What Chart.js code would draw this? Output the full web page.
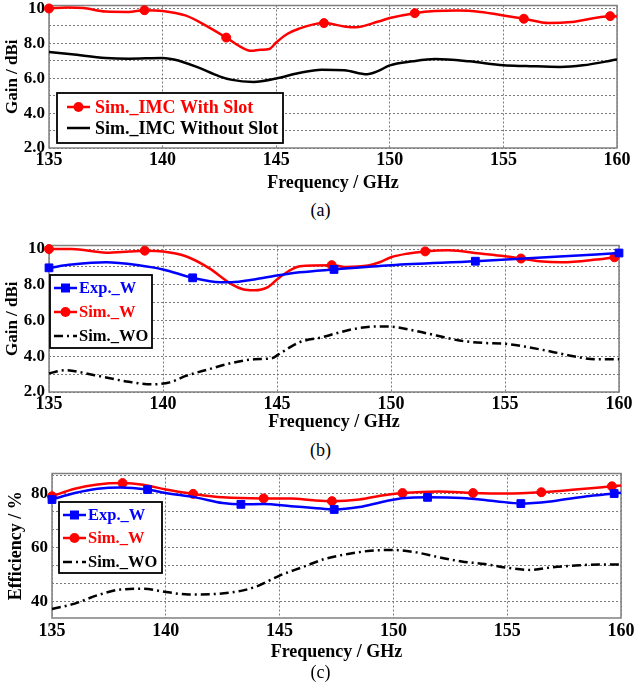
<!DOCTYPE html>
<html>
<head>
<meta charset="utf-8">
<script src="https://cdn.jsdelivr.net/npm/chart.js@4.4.1/dist/chart.umd.min.js"></script>
<style>
body { margin: 0; background: #fff; }
#page { position: relative; width: 641px; height: 686px; overflow: hidden; }
canvas { position: absolute; left: 0; }
.cap { position: absolute; left: 0; width: 641px; text-align: center; font: 18px 'Liberation Serif', 'Times New Roman', serif; line-height: 20px; }
</style>
</head>
<body>
<div id="page">
  <canvas id="chartA" width="641" height="196" style="top:0px"></canvas>
  <div class="cap" style="top:200px">(a)</div>
  <canvas id="chartB" width="641" height="196" style="top:239px"></canvas>
  <div class="cap" style="top:440px">(b)</div>
  <canvas id="chartC" width="641" height="196" style="top:467px"></canvas>
  <div class="cap" style="top:662px">(c)</div>
</div>
<script>
const FONT = "'Liberation Serif', 'Times New Roman', serif";

// Tick values
const freqTicks = [135, 140, 145, 150, 155, 160];
const gainTicks = [2, 3, 4, 5, 6, 7, 8, 9, 10];
const gainTickLabels = { 2: '2.0', 4: '4.0', 6: '6.0', 8: '8.0', 10: '10' };
const effTicks = [40, 46.67, 53.33, 60, 66.67, 73.33, 80, 86.67];
const effTickLabels = { 40: '40', 60: '60', 80: '80' };

// (a) Sim._IMC With Slot
const freqA1 = [135, 135.8, 136.5, 137.5, 138.5, 139.2, 140, 141, 142, 142.8, 143.5, 143.9, 144.3, 144.7, 145, 145.5, 146, 147.1, 148, 148.5, 149.5, 150, 151.1, 152, 153, 154, 155, 155.9, 157, 158, 159.7, 160];
const gainA1 = [10.0, 10.05, 10.02, 9.82, 9.8, 9.9, 9.86, 9.6, 8.95, 8.33, 7.75, 7.57, 7.63, 7.68, 8.05, 8.55, 8.84, 9.16, 8.97, 8.92, 9.25, 9.45, 9.73, 9.85, 9.88, 9.8, 9.6, 9.41, 9.16, 9.22, 9.56, 9.54];
const marksA1 = [135, 139.2, 142.8, 147.1, 151.1, 155.9, 159.7];

// (a) Sim._IMC Without Slot
const freqA2 = [135, 136, 137.5, 138.5, 140, 140.5, 141.5, 142.5, 143, 144, 145, 146, 147, 148, 149, 149.5, 150, 151, 152, 153.5, 155, 156, 157.5, 158.5, 160];
const gainA2 = [7.5, 7.37, 7.16, 7.12, 7.16, 7.07, 6.65, 6.11, 5.92, 5.79, 5.98, 6.3, 6.49, 6.46, 6.23, 6.42, 6.74, 6.97, 7.1, 6.97, 6.74, 6.7, 6.65, 6.74, 7.07];

// (b) Exp._W
const freqB1 = [135, 136, 137.5, 139, 140, 141.3, 142.5, 143, 144, 145, 146, 147.5, 150, 153.7, 157, 160];
const gainB1 = [8.95, 9.13, 9.26, 9.08, 8.86, 8.39, 8.15, 8.15, 8.3, 8.52, 8.7, 8.86, 9.1, 9.32, 9.55, 9.78];
const marksB1 = [135, 141.3, 147.5, 153.7, 160];

// (b) Sim._W
const freqB2 = [135, 136, 137.5, 138.5, 139.2, 140, 141, 142, 143, 143.5, 144, 144.6, 145, 145.5, 146, 147.4, 148, 149, 149.5, 150, 150.7, 151.5, 152.5, 154, 155, 155.7, 156.5, 157.5, 159, 159.8, 160];
const gainB2 = [10.0, 10.0, 9.8, 9.86, 9.91, 9.87, 9.6, 8.95, 8.04, 7.75, 7.69, 7.87, 8.3, 8.76, 9.04, 9.1, 9.0, 9.08, 9.26, 9.54, 9.74, 9.87, 9.93, 9.74, 9.6, 9.47, 9.32, 9.26, 9.41, 9.54, 9.6];
const marksB2 = [135, 139.2, 147.4, 151.5, 155.7, 159.8];

// (b) Sim._WO
const freqB3 = [135, 135.7, 137, 138.5, 139.5, 140.3, 141, 142, 143, 144, 144.8, 145, 146, 147, 147.5, 148.5, 149.5, 150, 151, 152, 153, 154, 155, 156, 157, 158, 159, 160];
const gainB3 = [3.04, 3.22, 2.94, 2.57, 2.43, 2.54, 2.9, 3.27, 3.62, 3.83, 3.9, 4.05, 4.79, 5.07, 5.25, 5.56, 5.67, 5.66, 5.44, 5.16, 4.88, 4.75, 4.7, 4.51, 4.27, 4.0, 3.83, 3.83];

// (c) Exp._W
const freqC1 = [135, 136, 137, 138, 139.2, 140, 141.3, 142.5, 143.3, 144.3, 145.5, 146.5, 147.4, 148.5, 149.5, 150.5, 151.5, 153, 154.5, 155.6, 157, 158.5, 159.7, 160];
const effC1 = [77.7, 80.1, 81.7, 82.2, 81.4, 80.1, 78.5, 76.4, 75.9, 76.0, 75.2, 74.6, 74.0, 74.9, 76.8, 78.3, 78.5, 78.3, 77.1, 76.2, 77.1, 78.9, 79.9, 80.2];
const marksC1 = [135, 139.2, 143.3, 147.4, 151.5, 155.6, 159.7];

// (c) Sim._W
const freqC2 = [135, 136, 137, 138.1, 139, 140, 141.2, 142.5, 144.3, 145.5, 146.5, 147.3, 148.5, 149.5, 150.4, 152, 153.5, 155, 156.5, 158, 159.6, 160];
const effC2 = [78.9, 81.7, 83.3, 83.8, 83.2, 81.4, 79.8, 78.5, 78.1, 78.1, 77.4, 77.1, 77.7, 79.2, 80.1, 80.7, 80.1, 79.9, 80.4, 81.4, 82.6, 82.9];
const marksC2 = [135, 138.1, 141.2, 144.3, 147.3, 150.4, 153.5, 156.5, 159.6];

// (c) Sim._WO
const freqC3 = [135, 136, 137, 138, 139, 140, 141, 142, 143, 143.4, 144, 145, 146, 147, 148, 149, 150, 151, 152, 153, 154, 155, 156, 157, 158, 159, 160];
const effC3 = [37.1, 39.1, 42.2, 44.3, 44.6, 43.4, 42.5, 42.6, 43.4, 44.0, 45.5, 49.5, 52.6, 55.7, 57.5, 58.7, 59.0, 58.1, 56.3, 54.7, 53.8, 52.4, 51.6, 52.6, 53.2, 53.6, 53.6];

// Build a line dataset
function series(label, freq, vals, marks, color, style) {
    return Object.assign({
        label: label,
        data: freq.map((f, i) => ({ x: f, y: vals[i] })),
        borderColor: color,
        backgroundColor: color,
        borderWidth: 2.5,
        pointStyle: 'circle',
        pointRadius: freq.map(f => marks.includes(f) ? 4.5 : 0),
        pointBorderWidth: 1,
        pointHoverRadius: 0,
        cubicInterpolationMode: 'monotone',
        clip: 10
    }, style || {});
}

// Frame round the plot area
const framePlugin = {
    id: 'frame',
    beforeDatasetsDraw(chart) {
        const a = chart.chartArea;
        const ctx = chart.ctx;
        ctx.save();
        ctx.strokeStyle = '#808080';
        ctx.lineWidth = 1.5;
        ctx.strokeRect(a.left, a.top, a.right - a.left, a.bottom - a.top);
        ctx.restore();
    }
};

// Boxed legend inside the plot
const insetLegendPlugin = {
    id: 'insetLegend',
    afterDraw(chart, args, opts) {
        const ctx = chart.ctx;
        ctx.save();
        ctx.fillStyle = '#fff';
        ctx.fillRect(opts.left, opts.top, opts.width, opts.height);
        ctx.strokeStyle = '#000';
        ctx.lineWidth = 1.8;
        ctx.strokeRect(opts.left, opts.top, opts.width, opts.height);
        ctx.font = 'bold ' + opts.fontSize + 'px ' + FONT;
        ctx.textBaseline = 'middle';
        chart.data.datasets.forEach((ds, i) => {
            const y = opts.rowY[i];
            ctx.strokeStyle = ds.borderColor;
            ctx.lineWidth = ds.borderWidth;
            ctx.setLineDash(ds.borderDash || []);
            ctx.beginPath();
            ctx.moveTo(opts.lineX[0], y);
            ctx.lineTo(opts.lineX[1], y);
            ctx.stroke();
            ctx.setLineDash([]);
            const mx = (opts.lineX[0] + opts.lineX[1]) / 2;
            const hasMark = Array.isArray(ds.pointRadius) && ds.pointRadius.some(r => r > 0);
            if (hasMark) {
                ctx.fillStyle = ds.borderColor;
                ctx.beginPath();
                if (ds.pointStyle === 'rect') {
                    ctx.rect(mx - 4.5, y - 4.5, 9, 9);
                } else {
                    ctx.arc(mx, y, 5, 0, Math.PI * 2);
                }
                ctx.fill();
            }
            ctx.fillStyle = ds.borderColor;
            ctx.fillText(ds.label, opts.textX, y + 1);
        });
        ctx.restore();
    }
};

function makeChart(id, datasets, cfg) {
    return new Chart(document.getElementById(id), {
        type: 'line',
        data: { datasets: datasets },
        options: {
            responsive: false,
            animation: false,
            events: [],
            layout: { padding: { top: 5, right: cfg.padRight, bottom: 0, left: 0 } },
            plugins: {
                legend: { display: false },
                tooltip: { enabled: false },
                insetLegend: cfg.legend
            },
            scales: {
                x: {
                    type: 'linear',
                    min: 135,
                    max: 160,
                    afterBuildTicks: s => { s.ticks = freqTicks.map(v => ({ value: v })); },
                    afterFit: s => { s.height = cfg.xHeight; s.paddingLeft = 0; s.paddingRight = 0; },
                    grid: { color: '#7a7a7a', lineWidth: 1, drawTicks: false },
                    border: { display: false, dash: [2, 2] },
                    ticks: {
                        autoSkip: false, maxRotation: 0, padding: cfg.xTickPad, color: '#000',
                        font: { family: FONT, size: 18, weight: 'bold' }
                    },
                    title: {
                        display: true, text: 'Frequency / GHz', color: '#000',
                        font: { family: FONT, size: 18, weight: 'bold' },
                        padding: { top: 0, bottom: cfg.xTitlePad }
                    }
                },
                y: {
                    type: 'linear',
                    min: cfg.yMin,
                    max: cfg.yMax,
                    afterBuildTicks: s => { s.ticks = cfg.yTicks.map(v => ({ value: v })); },
                    afterFit: s => { s.width = cfg.yWidth; s.paddingTop = 0; s.paddingBottom = 0; },
                    grid: { color: '#7a7a7a', lineWidth: 1, drawTicks: false },
                    border: { display: false, dash: [2, 2] },
                    ticks: {
                        autoSkip: false, padding: 4, color: '#000',
                        font: { family: FONT, size: 17, weight: 'bold' },
                        callback: v => cfg.yLabels[v] || ''
                    },
                    title: {
                        display: true, text: cfg.yTitle, color: '#000',
                        font: { family: FONT, size: cfg.yTitleSize, weight: 'bold' },
                        padding: { top: cfg.yTitlePad, bottom: 0 }
                    }
                }
            }
        },
        plugins: [framePlugin, insetLegendPlugin]
    });
}

const RED = '#ff0000';
const BLUE = '#0000ff';
const BLACK = '#000000';
const DASHDOT = { borderDash: [9, 4, 2, 4] };

makeChart('chartA', [
    series('Sim._IMC With Slot', freqA1, gainA1, marksA1, RED),
    series('Sim._IMC Without Slot', freqA2, gainA2, [], BLACK)
], {
    padRight: 24, xHeight: 48, xTickPad: 2, xTitlePad: 2,
    yMin: 2, yMax: 10.17, yTicks: gainTicks, yLabels: gainTickLabels, yWidth: 49,
    yTitle: 'Gain / dBi', yTitleSize: 17, yTitlePad: 2,
    legend: { left: 57, top: 93, width: 226, height: 50, rowY: [107, 128], lineX: [67, 90], textX: 95, fontSize: 18 }
});

makeChart('chartB', [
    series('Exp._W', freqB1, gainB1, marksB1, BLUE, { pointStyle: 'rect', pointRadius: freqB1.map(f => marksB1.includes(f) ? 5.5 : 0) }),
    series('Sim._W', freqB2, gainB2, marksB2, RED),
    series('Sim._WO', freqB3, gainB3, [], BLACK, DASHDOT)
], {
    padRight: 22, xHeight: 43, xTickPad: 2, xTitlePad: 2,
    yMin: 2, yMax: 10.2, yTicks: gainTicks, yLabels: gainTickLabels, yWidth: 49,
    yTitle: 'Gain / dBi', yTitleSize: 17, yTitlePad: 2,
    legend: { left: 50, top: 36, width: 102, height: 73, rowY: [49, 73, 97], lineX: [54, 77], textX: 79, fontSize: 16.5 }
});

makeChart('chartC', [
    series('Exp._W', freqC1, effC1, marksC1, BLUE, { pointStyle: 'rect', pointRadius: freqC1.map(f => marksC1.includes(f) ? 5.5 : 0) }),
    series('Sim._W', freqC2, effC2, marksC2, RED),
    series('Sim._WO', freqC3, effC3, [], BLACK, DASHDOT)
], {
    padRight: 20, xHeight: 45, xTickPad: 3, xTitlePad: 0,
    yMin: 33.76, yMax: 87.35, yTicks: effTicks, yLabels: effTickLabels, yWidth: 52,
    yTitle: 'Efficiency / %', yTitleSize: 18, yTitlePad: 6,
    legend: { left: 59, top: 35, width: 103, height: 71, rowY: [48, 71, 95], lineX: [63, 86], textX: 88, fontSize: 16.5 }
});
</script>
</body>
</html>
